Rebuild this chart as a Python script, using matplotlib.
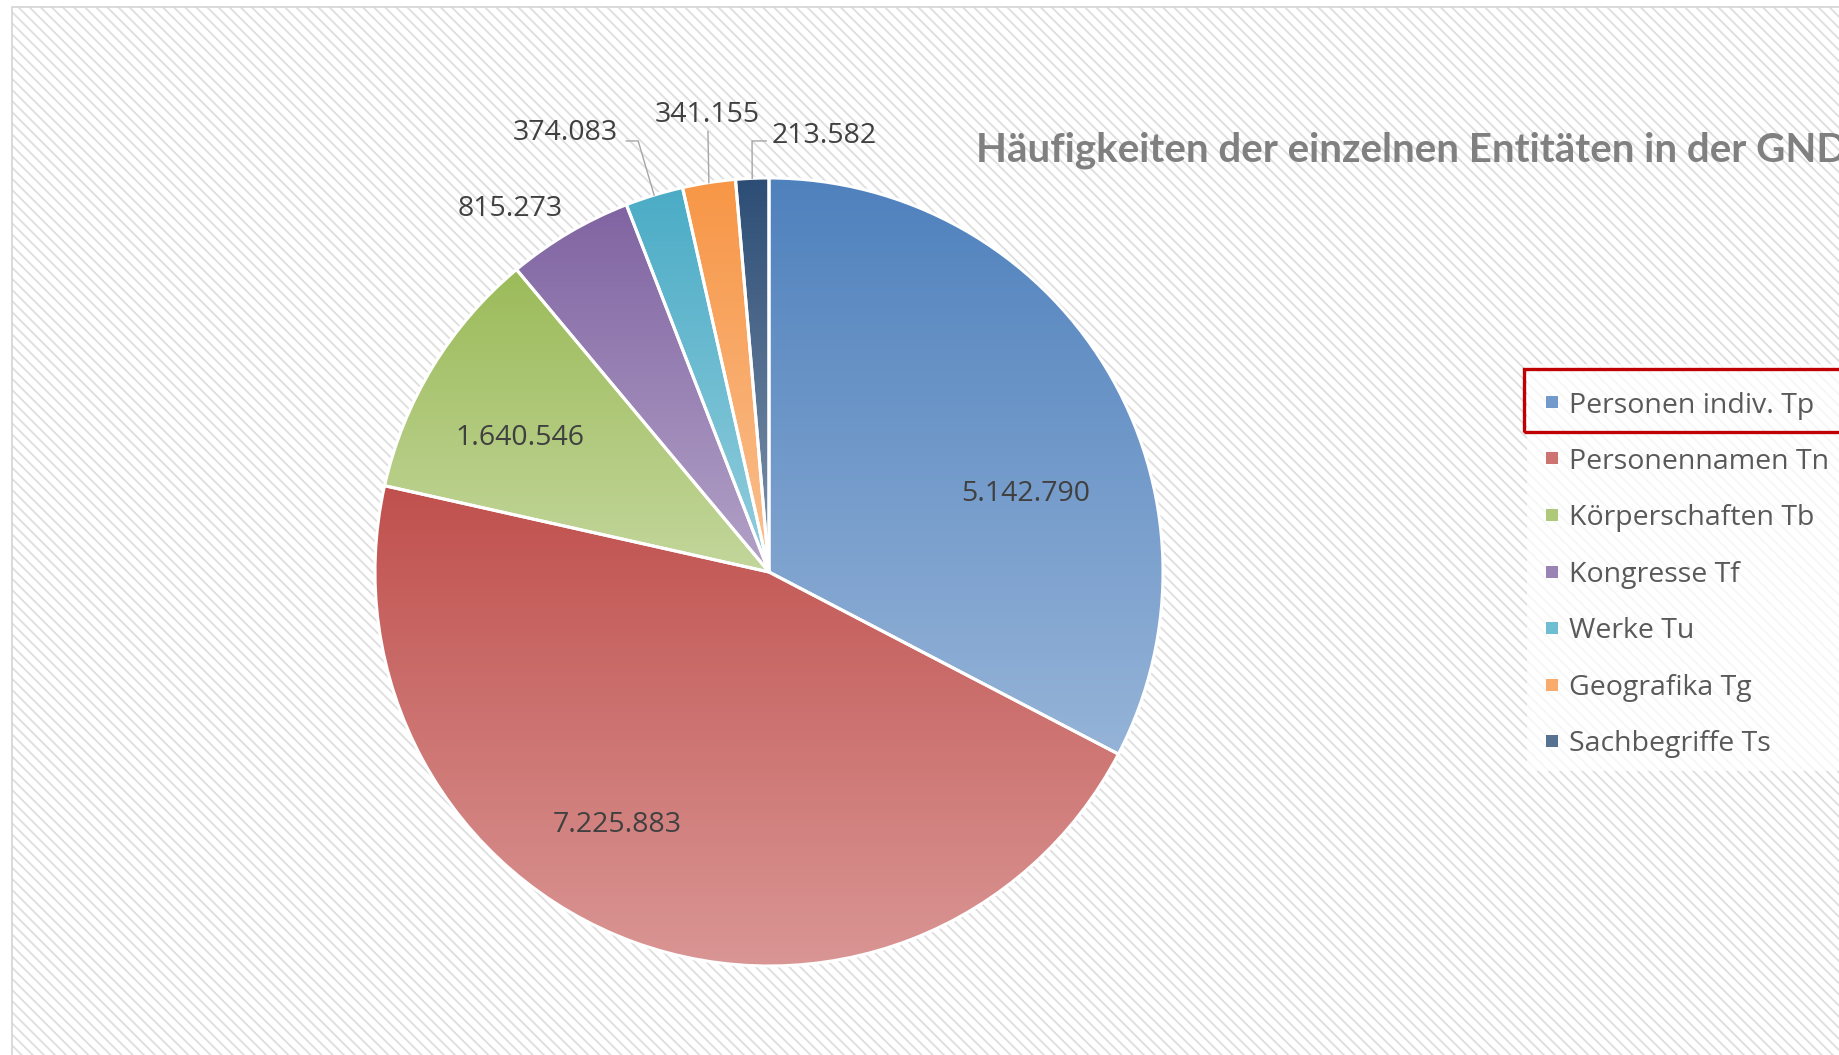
import numpy as np
import matplotlib.pyplot as plt
from matplotlib.patches import Rectangle
from matplotlib.colors import to_rgb

plt.rcParams['font.family'] = ['Open Sans', 'DejaVu Sans']
plt.rcParams['hatch.color'] = '#dedede'
plt.rcParams['hatch.linewidth'] = 1.3

# data
categories = ['Personen indiv. Tp', 'Personennamen Tn', 'Körperschaften Tb', 'Kongresse Tf',
              'Werke Tu', 'Geografika Tg', 'Sachbegriffe Ts']
values = [5142790, 7225883, 1640546, 815273, 374083, 341155, 213582]
value_labels = ['5.142.790', '7.225.883', '1.640.546', '815.273', '374.083', '341.155', '213.582']
colors = ['#4F81BD', '#C0504D', '#9BBB59', '#8064A2', '#4BACC6', '#F79646', '#2C4D75']
title = 'Häufigkeiten der einzelnen Entitäten in der GND'

# label positions (pie data coords, radius 1) and leader elbows (None = no leader)
label_pos = [(0.652, 0.199), (-0.386, -0.642), (-0.632, 0.341), (-0.657, 0.922),
             (-0.518, 1.113), (-0.157, 1.161), (0.140, 1.107)]
leader_elbow = [None, None, None, None, (-0.332, 1.094), (-0.155, 1.118), (-0.043, 1.094)]
leader_end = [None, None, None, None, (-0.362, 1.094), None, (-0.007, 1.094)]

W, H = 1839, 1055
fig = plt.figure(figsize=(W / 100, H / 100), dpi=100)


def fx(px):
    return px / W


def fy(py):
    return 1 - py / H


# hatched chart area
fig.patches.append(Rectangle((fx(12), 0), 1, fy(7), transform=fig.transFigure,
                             facecolor='white', edgecolor='#dedede', lw=0, hatch='\\\\\\', zorder=0))
fig.patches.append(Rectangle((fx(12), -0.01), 1, fy(7) + 0.01, transform=fig.transFigure,
                             fill=False, edgecolor='#d4d4d4', lw=1.2, zorder=0.1))

cx, cy, r = 769, 572, 394
ax = fig.add_axes([fx(cx - r), fy(cy + r), 2 * r / W, 2 * r / H])
ax.set_zorder(2)
wedges, _ = ax.pie(values, colors=colors, startangle=90, counterclock=False,
                   wedgeprops=dict(edgecolor='white', linewidth=2.2))

# vertical gradient in each slice: accent colour at top, 40% lighter at bottom
for w, c in zip(wedges, colors):
    base = np.array(to_rgb(c))
    light = base * 0.6 + 0.4
    t = np.linspace(0, 1, 256)[:, None, None]
    img = (1 - t) * base + t * light
    th = np.radians(np.linspace(w.theta1, w.theta2, 200))
    xs = np.concatenate([[0], np.cos(th)])
    ys = np.concatenate([[0], np.sin(th)])
    im = ax.imshow(img, extent=(xs.min(), xs.max(), ys.min(), ys.max()), origin='upper',
                   aspect='auto', zorder=0.5, interpolation='bilinear')
    im.set_clip_path(w)
    w.set_facecolor('none')
    w.set_zorder(1)

ax.set_xlim(-1, 1)
ax.set_ylim(-1, 1)
ax.set_aspect('equal')
ax.axis('off')

for i, w in enumerate(wedges):
    x, y = label_pos[i]
    ax.text(x, y, value_labels[i], ha='center', va='center', fontsize=20.5, color='#404040', zorder=3)
    if leader_elbow[i] is not None:
        mid = np.radians((w.theta1 + w.theta2) / 2)
        ex, ey = np.cos(mid), np.sin(mid)
        px = [ex, leader_elbow[i][0]]
        py = [ey, leader_elbow[i][1]]
        if leader_end[i] is not None:
            px.append(leader_end[i][0])
            py.append(leader_end[i][1])
        ax.plot(px, py, color='#a6a6a6', lw=1, zorder=2, clip_on=False)

fig.text(fx(976), fy(150), title, fontsize=29, fontweight='bold', color='#808080',
         family=['Lato', 'DejaVu Sans'], ha='left', va='center', zorder=5)

# legend box drawn by hand so the rows sit where the original puts them
fig.patches.append(Rectangle((fx(1527), fy(771)), 0.2, (771 - 364) / H, transform=fig.transFigure,
                             facecolor='white', alpha=0.75, lw=0, zorder=4))
row0, row_step = 402, 56.5
for i, (lab, c) in enumerate(zip(categories, colors)):
    yc = row0 + i * row_step
    base = np.array(to_rgb(c))
    fig.patches.append(Rectangle((fx(1546), fy(yc + 6)), 12 / W, 12 / H, transform=fig.transFigure,
                                 facecolor=base * 0.8 + 0.2, lw=0, zorder=5))
    fig.text(fx(1569), fy(yc + 3.5), lab, fontsize=20.5, color='#595959', ha='left', va='center',
             zorder=5)

fig.patches.append(Rectangle((fx(1524), fy(432)), 0.2, (432 - 369) / H, transform=fig.transFigure,
                             fill=False, edgecolor='#c00000', lw=2.4, zorder=10))

fig.savefig('out.png', dpi=100)
